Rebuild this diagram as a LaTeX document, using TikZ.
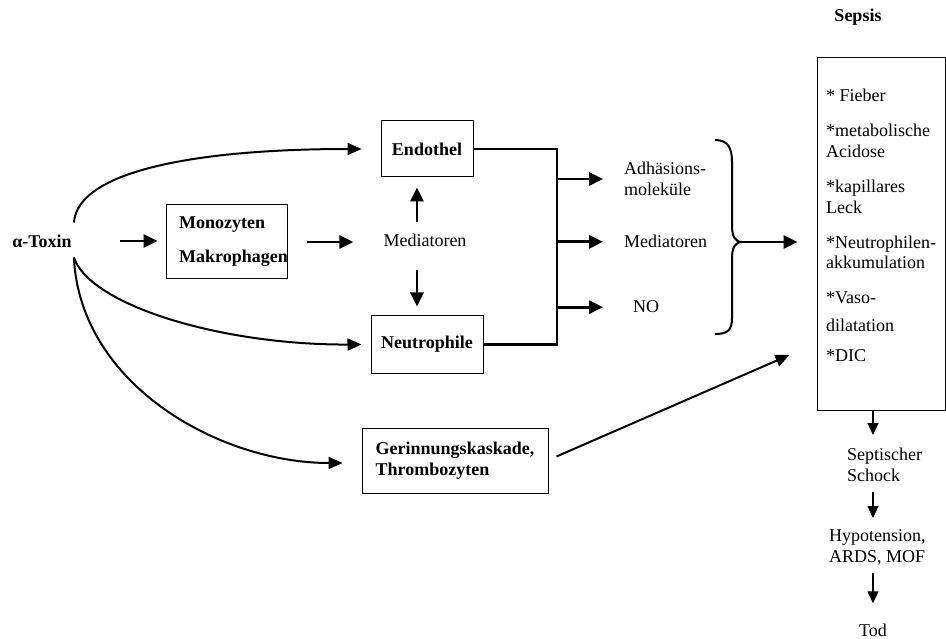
\documentclass[tikz,border=0pt]{standalone}
\usepackage{fontspec}
\setmainfont{Liberation Serif}
\usetikzlibrary{arrows.meta,calc}
\begin{document}
\begin{tikzpicture}[x=1pt,y=-1pt,
 every node/.style={font=\fontsize{18}{21}\selectfont, inner sep=0pt},
 bl/.style={font=\fontsize{18}{21}\selectfont\bfseries},
 box/.style={draw, line width=1pt},
 tarr/.style={line width=2.8pt, -{Triangle[length=14pt,width=13pt]}},
 carr/.style={line width=2pt, -{Triangle[length=14pt,width=12pt]}},
 varr/.style={line width=1.2pt, -{Triangle[length=12pt,width=11pt]}},
 heavy/.style={line width=2.8pt},
]
\useasboundingbox (0,0) rectangle (946,639);

% left part
\node[bl] (tox) at (42,241) {α-Toxin};
\node[box, minimum width=121pt, minimum height=74pt] (mono) at (226.5,242) {};
\node[bl, anchor=base west] (monot) at (179,229) {Monozyten};
\node[bl, anchor=base west] (makro) at (179,263) {Makrophagen};
\node[anchor=base] (med) at (425,247) {Mediatoren};
\node[box, bl, minimum width=92pt, minimum height=56pt] (endo) at (427,149) {Endothel};
\node[box, bl, minimum width=112pt, minimum height=57pt] (neut) at (427,344.5) {Neutrophile};
\node[box, bl, minimum width=186pt, minimum height=65pt, align=left] (ger) at (455,460.5) {Gerinnungskaskade,\\Thrombozyten};

\draw[tarr, shorten <=48pt, shorten >=8pt] (tox.east) -- (tox.east -| mono.west);
\draw[tarr, shorten <=19pt, shorten >=30pt] (mono.east) -- (mono.east -| med.west);
\draw[tarr, shorten <=12pt, shorten >=10pt] ([xshift=-8pt]med.north) -- ([xshift=-8pt]med.north |- endo.south);
\draw[tarr, shorten <=23pt, shorten >=9pt] ([xshift=-8pt]med.south) -- ([xshift=-8pt]med.south |- neut.north);

\draw[carr] ($(tox.north east)+(2,-12)$) .. controls (78,170) and (200,149) .. ([xshift=-19pt]endo.west);
\draw[carr] ($(tox.south east)+(2,10)$) .. controls (90,305) and (220,345) .. ([xshift=-9pt]neut.west);
\draw[carr] ($(tox.south east)+(2,10)$) .. controls (80,385) and (220,463) .. ($(ger.west)+(-19,2.5)$);

% bus
\coordinate (bustop) at (557,149);
\draw[heavy] (endo.east) -- (bustop) |- (neut.east);

\node[anchor=west, align=left] (adh) at (624,179) {Adhäsions-\\moleküle};
\node[anchor=base west] (med2) at (624,248) {Mediatoren};
\node[anchor=base west] (no) at (633,313) {NO};
\draw[tarr, shorten >=21pt] (bustop |- adh.west) -- (adh.west);
\draw[tarr, shorten >=21pt] (bustop |- med2.west) -- (med2.west);
\draw[tarr, shorten >=30pt] (bustop |- no.west) -- (no.west);

% brace
\coordinate (brtip) at (742,242);
\draw[line width=2pt] (715,140) .. controls (728,140) and (732,148) .. (732,162) -- (732,226)
  .. controls (732,236) and (735,242) .. (brtip)
  .. controls (735,242) and (732,248) .. (732,258) -- (732,318)
  .. controls (732,330) and (728,334) .. (715,334);

% sepsis
\node[bl] (septitle) at (858,17) {Sepsis};
\node[box, minimum width=128.5pt, minimum height=352pt] (sep) at (881.25,234) {};
\draw[tarr, shorten >=19pt] (brtip) -- (brtip -| sep.west);
\draw[carr] ($(ger.east)+(8,-4)$) -- ($(sep.west)+(-27,121)$);

\node[anchor=base west] (s1) at (826,102) {* Fieber};
\node[anchor=base west] (s2) at (826,137) {*metabolische};
\node[anchor=base west] (s3) at (826,158) {Acidose};
\node[anchor=base west] (s4) at (826,193) {*kapillares};
\node[anchor=base west] (s5) at (826,214) {Leck};
\node[anchor=base west] (s6) at (826,249) {*Neutrophilen-};
\node[anchor=base west] (s7) at (826,269) {akkumulation};
\node[anchor=base west] (s8) at (826,304) {*Vaso-};
\node[anchor=base west] (s9) at (826,332) {dilatation};
\node[anchor=base west] (s10) at (826,361) {*DIC};

\node[anchor=north west, align=left] (sch) at (847,448) {Septischer\\Schock};
\node[anchor=north west, align=left] (hyp) at (829,529) {Hypotension,\\ARDS, MOF};
\node[anchor=base] (tod) at (873,636) {Tod};

\draw[varr, shorten >=13pt] (sep.south -| tod.north) -- (sch.north -| tod.north);
\draw[varr, shorten <=10pt, shorten >=11pt] (sch.south -| tod.north) -- (hyp.north -| tod.north);
\draw[varr, shorten <=8pt, shorten >=20pt] (hyp.south -| tod.north) -- (tod.north);
\end{tikzpicture}
\end{document}
